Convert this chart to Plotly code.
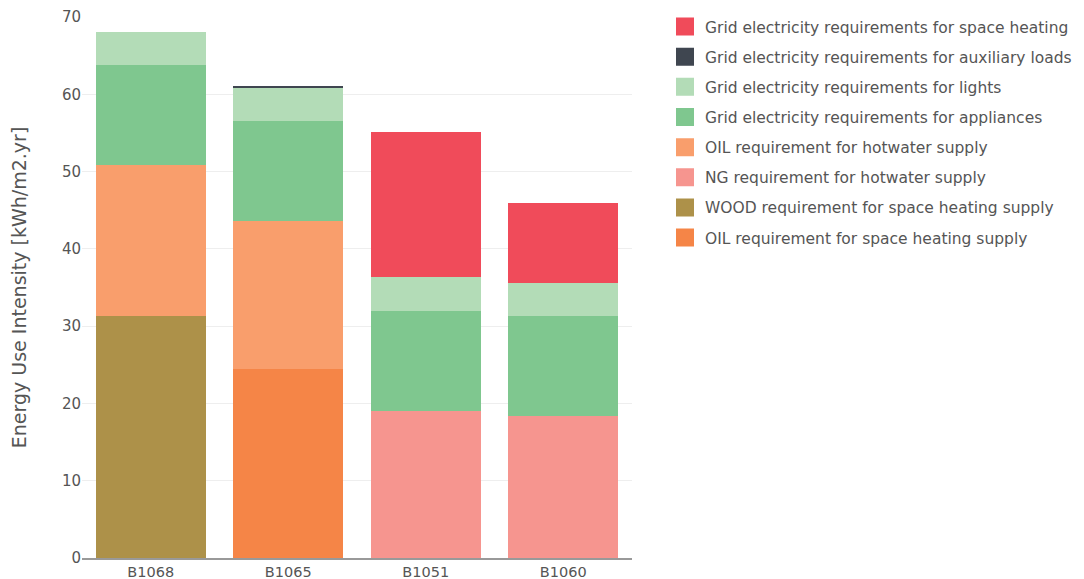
import plotly.graph_objects as go

buildings = ["B1068", "B1065", "B1051", "B1060"]

oil_space_heating = [0.0, 24.4, 0.0, 0.0]
wood_space_heating = [31.3, 0.0, 0.0, 0.0]
ng_hotwater = [0.0, 0.0, 19.0, 18.4]
oil_hotwater = [19.5, 19.2, 0.0, 0.0]
grid_appliances = [12.95, 12.95, 12.95, 12.9]
grid_lights = [4.3, 4.3, 4.4, 4.3]
grid_auxiliary = [0.0, 0.25, 0.0, 0.0]
grid_space_heating = [0.0, 0.0, 18.8, 10.3]

series = [
    ("OIL requirement for space heating supply", oil_space_heating, "#F58547"),
    ("WOOD requirement for space heating supply", wood_space_heating, "#AD9149"),
    ("NG requirement for hotwater supply", ng_hotwater, "#F6958F"),
    ("OIL requirement for hotwater supply", oil_hotwater, "#F99E6C"),
    ("Grid electricity requirements for appliances", grid_appliances, "#7FC78F"),
    ("Grid electricity requirements for lights", grid_lights, "#B3DCB7"),
    ("Grid electricity requirements for auxiliary loads", grid_auxiliary, "#3F4650"),
    ("Grid electricity requirements for space heating", grid_space_heating, "#F04B5A"),
]

fig = go.Figure()
for i, (name, vals, color) in enumerate(series):
    fig.add_trace(go.Bar(
        x=buildings, y=vals, name=name, legendgroup=name,
        showlegend=False,
        marker=dict(color=color, line=dict(width=0)),
    ))
    # legend entry with a larger square swatch
    fig.add_trace(go.Scatter(
        x=[None], y=[None], mode="markers", name=name, legendgroup=name,
        legendrank=1000 - i, hoverinfo="skip",
        marker=dict(symbol="square", size=16, color=color,
                    line=dict(color=color, width=2)),
    ))

fig.update_layout(
    barmode="stack",
    bargap=0.2,
    width=1076, height=571,
    margin=dict(l=74, r=452, t=9, b=21, autoexpand=False),
    paper_bgcolor="white", plot_bgcolor="white",
    font=dict(family="DejaVu Sans", size=14, color="#555"),
    legend=dict(
        x=1.06, y=1.013, xanchor="left", yanchor="top",
        traceorder="grouped", tracegroupgap=7, itemsizing="trace",
        font=dict(size=15.5, color="#555"),
    ),
    xaxis=dict(showline=True, linecolor="#999", linewidth=2, ticks="",
               automargin=False, tickfont=dict(size=14.5)),
    yaxis=dict(range=[0, 70], dtick=10, showgrid=True, gridcolor="#eeeeee",
               zeroline=False, ticks="", automargin=False, tickfont=dict(size=15),
               title=dict(text="Energy Use Intensity [kWh/m2.yr]", standoff=30,
                          font=dict(size=19))),
)

fig.write_html("out.html")
